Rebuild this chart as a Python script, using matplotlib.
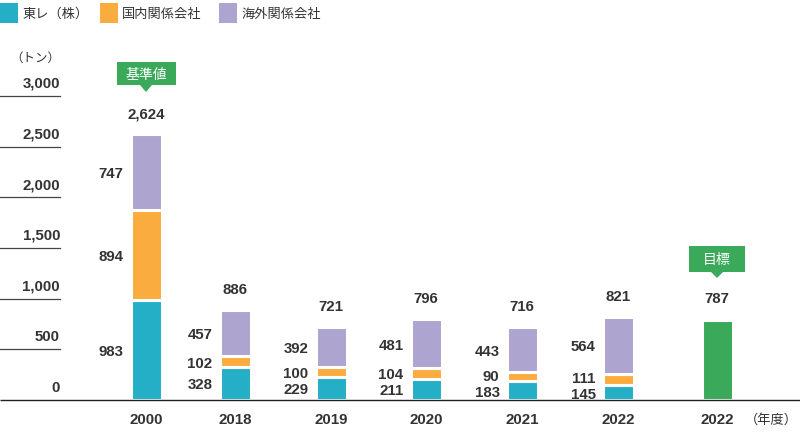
import matplotlib
matplotlib.use('Agg')
import matplotlib.pyplot as plt
from matplotlib.patches import Rectangle, Polygon

# ---- data ----
years = ['2000', '2018', '2019', '2020', '2021', '2022']
toray = [983, 328, 229, 211, 183, 145]
domestic = [894, 102, 100, 104, 90, 111]
overseas = [747, 457, 392, 481, 443, 564]
totals = [2624, 886, 721, 796, 716, 821]
target_year = '2022'
target_value = 787
yticks = [0, 500, 1000, 1500, 2000, 2500, 3000]
series_names = ['東レ（株）', '国内関係会社', '海外関係会社']
callout_base = '基準値'
callout_target = '目標'
unit_label = '（トン）'
year_unit = '（年度）'

# ---- layout / style ----
W, H = 800, 435
base_px = 401.0          # pixel row of y=0 (from top)
k = 304.0 / 3000.0       # pixels per ton
xpos = [146, 235, 331, 426, 522, 618]
target_x = 717
bar_w = 31
colors = ['#25afc7', '#fbac3e', '#ada5d0']
green = '#3aa95a'
txt = '#333333'
num_fs = 10.8

plt.rcParams['font.family'] = ['Liberation Sans', 'Noto Sans CJK JP']

fig = plt.figure(figsize=(W / 100, H / 100), dpi=100)
ax = fig.add_axes([0, 0, 1, 1])
ax.set_xlim(0, W)
ax.set_ylim(-(H - base_px) / k, base_px / k)
ax.axis('off')


def d(py):
    """pixel row (from top) -> data y"""
    return (base_px - py) / k


# bars
bottoms = [0] * len(years)
for vals, c in zip([toray, domestic, overseas], colors):
    ax.bar(xpos, vals, width=bar_w, bottom=bottoms, color=c,
           edgecolor='white', linewidth=2.2, zorder=2)
    bottoms = [b + v for b, v in zip(bottoms, vals)]
ax.bar([target_x], [target_value], width=bar_w, color=green,
       edgecolor='white', linewidth=2.2, zorder=2)

# baseline
ax.plot([0, W], [0, 0], color='#222222', lw=1.0, zorder=5, solid_capstyle='butt')

# y ticks (short lines with labels above)
for t in yticks:
    if t > 0:
        ax.plot([0, 60], [t, t], color='#444444', lw=0.9, zorder=3)
    ypx = base_px - t * k - 13
    ax.text(60, d(ypx), f'{t:,}', ha='right', va='center', fontsize=num_fs,
            fontweight='bold', color=txt)
ax.text(60, d(59), unit_label, ha='right', va='center', fontsize=9, color=txt)

# segment labels
for i, x in enumerate(xpos):
    segs = [toray[i], domestic[i], overseas[i]]
    cum = 0
    prev = None
    for v in segs:
        cpx = base_px - (cum + v / 2) * k
        if prev is not None and prev - cpx < 16:
            cpx = prev - 16
        ax.text(x - bar_w / 2 - 7, d(cpx + 1), f'{v:,}', ha='right', va='center',
                fontsize=num_fs, fontweight='bold', color=txt)
        prev = cpx
        cum += v
    top_px = base_px - totals[i] * k
    ax.text(x, d(top_px - 21), f'{totals[i]:,}', ha='center', va='center',
            fontsize=num_fs, fontweight='bold', color=txt)
    ax.text(x, d(420), years[i], ha='center', va='center', fontsize=num_fs,
            fontweight='bold', color=txt)

top_px = base_px - target_value * k
ax.text(target_x, d(top_px - 22), f'{target_value:,}', ha='center', va='center',
        fontsize=num_fs, fontweight='bold', color=txt)
ax.text(target_x, d(420), target_year, ha='center', va='center', fontsize=num_fs,
        fontweight='bold', color=txt)
ax.text(745, d(420), year_unit, ha='left', va='center', fontsize=9.5, color=txt)


# callouts
def callout(cx, top, bot, tip, half_w, label):
    ax.add_patch(Rectangle((cx - half_w, d(bot)), 2 * half_w, d(top) - d(bot),
                           facecolor=green, edgecolor='none', zorder=4))
    ax.add_patch(Polygon([(cx - 6, d(bot)), (cx + 6, d(bot)), (cx, d(tip))],
                         closed=True, facecolor=green, edgecolor='none', zorder=4))
    ax.text(cx, d((top + bot) / 2), label, ha='center', va='center', fontsize=10,
            color='white', zorder=6)


callout(xpos[0], 63, 86, 93, 29.5, callout_base)
callout(target_x, 247, 273, 279, 28, callout_target)

# legend
leg_x = [0, 100, 219]
for lx, name, c in zip(leg_x, series_names, colors):
    ax.add_patch(Rectangle((lx, d(24)), 18, d(4) - d(24), facecolor=c,
                           edgecolor='none', clip_on=False))
    ax.text(lx + 22, d(14.5), name, ha='left', va='center', fontsize=9.5, color=txt)

fig.savefig('out.png', dpi=100)
